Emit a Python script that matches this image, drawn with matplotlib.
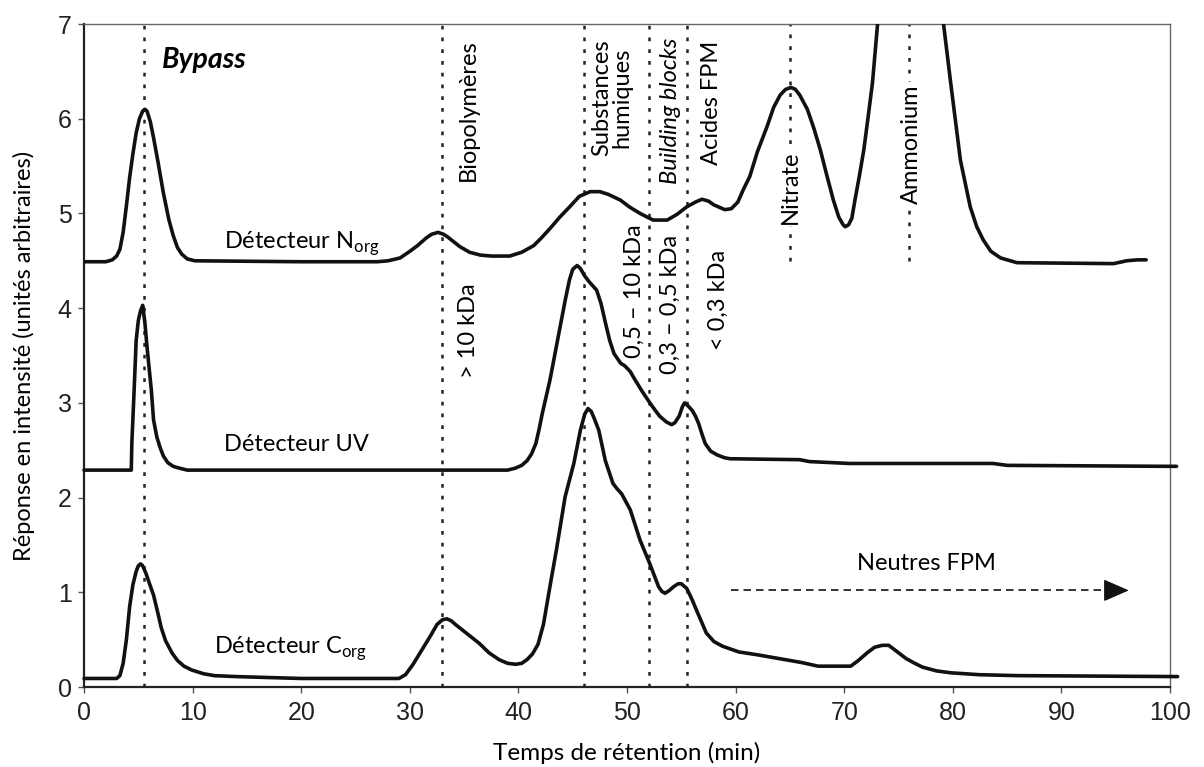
import matplotlib
matplotlib.use("Agg")
import matplotlib.pyplot as plt

# ---------------- data ----------------
norg_x = [0, 2.0, 2.6, 3.0, 3.3, 3.6, 3.9, 4.2, 4.5, 4.8, 5.1, 5.4, 5.6, 5.8, 6.1, 6.4, 6.8, 7.3,
          7.8, 8.2, 8.6, 9.0, 9.5, 10.2, 20, 27,
          28.0, 29.1, 30.0, 30.7, 31.5, 32.0, 32.6, 33.1, 33.5, 34.6, 35.5, 36.5, 37.5, 39.2, 40.3,
          41.4, 42.1, 42.9, 43.8, 44.8, 45.6, 46.6, 47.5, 48.3, 49.4, 50.2, 51.2, 52.4, 53.7,
          54.6, 55.5, 56.3, 56.9, 57.5, 58.0, 59.0, 59.6, 60.2, 60.7, 61.3, 62.0, 62.9, 63.5,
          64.1, 64.6, 65.1, 65.5, 65.9, 66.6, 67.2, 67.8, 68.4, 69.0, 69.5, 69.9, 70.1, 70.4,
          70.7, 71.0, 71.4, 71.8, 72.2, 72.6, 73.1, 73.6, 74.2, 75.0, 75.8, 76.6, 77.4, 78.1,
          78.6, 79.1, 79.8, 80.7, 81.6, 82.2, 82.8, 83.5, 84.4, 85.9, 94.8, 96.0, 97.0, 97.8]
norg_y = [4.49, 4.49, 4.51, 4.55, 4.62, 4.80, 5.08, 5.38, 5.63, 5.85, 6.00, 6.08, 6.10, 6.08, 5.97, 5.80, 5.55, 5.22,
          4.94, 4.77, 4.64, 4.57, 4.52, 4.50, 4.49, 4.49,
          4.50, 4.53, 4.60, 4.66, 4.74, 4.78, 4.80, 4.78, 4.75, 4.65, 4.59, 4.56, 4.55, 4.55, 4.59,
          4.66, 4.74, 4.84, 4.96, 5.08, 5.18, 5.23, 5.23, 5.20, 5.14, 5.07, 5.00, 4.93, 4.93,
          4.99, 5.07, 5.12, 5.15, 5.13, 5.09, 5.04, 5.05, 5.12, 5.25, 5.39, 5.65, 5.92, 6.12,
          6.25, 6.31, 6.33, 6.31, 6.25, 6.10, 5.90, 5.67, 5.40, 5.14, 4.96, 4.88, 4.86, 4.88,
          4.95, 5.15, 5.40, 5.67, 6.02, 6.38, 7.04, 7.70, 8.40, 9.00, 9.30, 9.20, 8.80, 8.00,
          7.50, 7.04, 6.38, 5.56, 5.07, 4.86, 4.72, 4.60, 4.53, 4.48, 4.47, 4.50, 4.51, 4.51]

uv_x = [0, 4.35, 4.4, 4.6, 4.8, 5.0, 5.2, 5.4, 5.6, 5.8, 6.0, 6.2, 6.4, 6.7, 7.0, 7.3, 7.7, 8.2, 8.8,
        9.5, 39.0, 39.7, 40.3, 40.8, 41.2, 41.6, 41.9, 42.2, 42.9, 43.6, 44.3, 44.7, 45.0, 45.4,
        45.7, 46.1, 46.5, 47.2, 47.6, 48.0, 48.4, 48.8, 49.4, 49.8, 50.3, 50.7, 51.4, 52.1,
        52.6, 53.0, 53.6, 54.1, 54.4, 54.8, 55.1, 55.3, 55.6, 56.0, 56.3, 56.6, 56.9, 57.2,
        57.7, 58.3, 59.0, 59.5, 65.9, 66.8, 70.5, 83.7, 85.0, 99.7, 100.6]
uv_y = [2.29, 2.29, 2.57, 3.10, 3.66, 3.87, 3.97, 4.03, 3.85, 3.59, 3.36, 3.13, 2.82, 2.64, 2.53, 2.44, 2.37, 2.33, 2.31,
        2.29, 2.29, 2.31, 2.34, 2.39, 2.46, 2.57, 2.72, 2.89, 3.24, 3.66, 4.08, 4.30, 4.41, 4.45,
        4.42, 4.34, 4.28, 4.19, 4.05, 3.85, 3.66, 3.52, 3.42, 3.39, 3.33, 3.25, 3.12, 3.00,
        2.92, 2.86, 2.80, 2.77, 2.79, 2.86, 2.96, 3.00, 2.97, 2.92, 2.86, 2.78, 2.67, 2.57,
        2.49, 2.45, 2.42, 2.41, 2.40, 2.38, 2.36, 2.36, 2.34, 2.33, 2.33]

corg_x = [0, 3.0, 3.3, 3.6, 3.9, 4.2, 4.5, 4.8, 5.0, 5.2, 5.4, 5.7, 6.0, 6.4, 6.8, 7.1, 7.5, 8.1,
          8.6, 9.2, 9.9, 11, 12, 14, 17, 20, 29.0,
          29.6, 30.3, 31.1, 31.9, 32.5, 33.0, 33.4, 33.8, 34.2, 35.3, 36.4, 37.3, 38.2, 39.0,
          39.75, 40.3, 40.8, 41.3, 41.8, 42.3, 42.9, 43.5, 44.3, 45.1, 45.7, 46.1, 46.4, 46.7,
          47.0, 47.4, 48.0, 48.7, 49.1, 49.5, 50.3, 51.2, 52.1, 52.9, 53.2, 53.5, 53.9, 54.3,
          54.7, 55.0, 55.5, 56.0, 56.4, 57.3, 58.0, 58.8, 60.3, 62.0, 64.0, 66.0, 67.6, 70.6,
          71.3, 72.1, 72.8, 73.5, 74.1, 74.9, 75.7, 76.5, 77.2, 78.5, 79.8, 82.4, 86.0, 100.7]
corg_y = [0.09, 0.09, 0.12, 0.25, 0.50, 0.85, 1.08, 1.22, 1.28, 1.30, 1.28, 1.20, 1.10, 0.97, 0.78, 0.63, 0.49, 0.36,
          0.28, 0.22, 0.18, 0.14, 0.12, 0.11, 0.10, 0.09, 0.09,
          0.13, 0.24, 0.39, 0.54, 0.66, 0.71, 0.72, 0.70, 0.66, 0.56, 0.46, 0.36, 0.29, 0.25,
          0.24, 0.25, 0.29, 0.35, 0.45, 0.66, 1.06, 1.45, 2.01, 2.36, 2.71, 2.88, 2.94, 2.91,
          2.83, 2.71, 2.39, 2.15, 2.09, 2.04, 1.87, 1.55, 1.30, 1.06, 1.01, 0.99, 1.02, 1.06,
          1.09, 1.09, 1.04, 0.92, 0.81, 0.57, 0.48, 0.43, 0.37, 0.34, 0.30, 0.26, 0.22, 0.22,
          0.28, 0.36, 0.42, 0.44, 0.44, 0.37, 0.30, 0.25, 0.21, 0.17, 0.15, 0.13, 0.12, 0.11]

full_lines_x = [5.5, 33, 46, 52, 55.5]
short_lines_x = [65, 76]
short_lines_y = (4.5, 7.0)

x_ticks = [0, 10, 20, 30, 40, 50, 60, 70, 80, 90, 100]
y_ticks = [0, 1, 2, 3, 4, 5, 6, 7]

# ---------------- figure ----------------
LAB = ['Lato', 'DejaVu Sans']
TICK = ['Liberation Sans', 'DejaVu Sans']

fig = plt.figure(figsize=(12.04, 7.67), dpi=100)
ax = fig.add_axes([0.0698, 0.1043, 0.9020, 0.8644])
ax.set_xlim(0, 100)
ax.set_ylim(0, 7)

dot_style = (0, (1.5, 3.2))
for xv in full_lines_x:
    ax.plot([xv, xv], [0, 7], color='#222222', lw=1.8, ls=dot_style, zorder=1)
for xv in short_lines_x:
    ax.plot([xv, xv], list(short_lines_y), color='#222222', lw=1.8, ls=dot_style, zorder=1)

kw = dict(color='#111111', lw=2.6, solid_joinstyle='round', solid_capstyle='round', zorder=3)
ax.plot(norg_x, norg_y, **kw)
ax.plot(uv_x, uv_y, clip_on=False, **kw)
ax.plot(corg_x, corg_y, clip_on=False, **kw)

# texts
fs = 17
ax.text(7.2, 6.62, 'Bypass', fontsize=20.5, fontweight='bold', fontstyle='italic',
        family=LAB, ha='left', va='center')
ax.text(12.9, 4.68, r'Détecteur N$_\mathregular{org}$', fontsize=fs, family=LAB, ha='left', va='center')
ax.text(12.9, 2.56, 'Détecteur UV', fontsize=fs, family=LAB, ha='left', va='center')
ax.text(12.0, 0.40, r'Détecteur C$_\mathregular{org}$', fontsize=fs, family=LAB, ha='left', va='center')

rot = dict(rotation=90, fontsize=fs, family=LAB, ha='center', va='top')
ax.text(35.4, 6.84, 'Biopolymères', **rot)
ax.text(35.4, 4.26, '> 10 kDa', **rot)
ax.text(48.6, 6.84, 'Substances\nhumiques', multialignment='center', linespacing=1.0, **rot)
ax.text(54.0, 6.86, 'Building blocks', fontstyle='italic', **rot)
ax.text(57.8, 6.82, 'Acides FPM', **rot)
ax.text(50.7, 4.88, '0,5 – 10 kDa', **rot)
ax.text(54.0, 4.77, '0,3 – 0,5 kDa', **rot)
ax.text(58.4, 4.62, '< 0,3 kDa', **rot)
ax.text(65.0, 5.28, 'Nitrate', rotation=90, fontsize=fs, family=LAB, ha='center', va='center',
        bbox=dict(facecolor='white', edgecolor='none', pad=1.5), zorder=2)
ax.text(76.2, 5.73, 'Ammonium', rotation=90, fontsize=fs, family=LAB, ha='center', va='center',
        bbox=dict(facecolor='white', edgecolor='none', pad=1.5), zorder=2)

ax.text(77.6, 1.30, 'Neutres FPM', fontsize=fs, family=LAB, ha='center', va='center')
ax.plot([59.6, 94.5], [1.02, 1.02], color='#111111', lw=1.2, dashes=(4.5, 3))
ax.annotate('', xy=(96.2, 1.02), xytext=(94.0, 1.02),
            arrowprops=dict(arrowstyle='-|>,head_length=1.6,head_width=0.7',
                            color='#111111', lw=1.0, shrinkA=0, shrinkB=0))

# axes styling
ax.set_xticks(x_ticks)
ax.set_yticks(y_ticks)
ax.set_xticklabels([str(v) for v in x_ticks], family=TICK, fontsize=18)
ax.set_yticklabels([str(v) for v in y_ticks], family=TICK, fontsize=18)
ax.tick_params(axis='x', direction='out', length=4, width=1, color='#555555', pad=6, labelcolor='#222222')
ax.tick_params(axis='y', direction='out', length=4, width=1, color='#555555', pad=5, labelcolor='#222222')
for s in ('left', 'bottom'):
    ax.spines[s].set_linewidth(1.6)
    ax.spines[s].set_color('#222222')
for s in ('top', 'right'):
    ax.spines[s].set_linewidth(1.0)
    ax.spines[s].set_color('#666666')

ax.set_xlabel('Temps de rétention (min)', fontsize=17.5, family=LAB, labelpad=12)
ax.set_ylabel('Réponse en intensité (unités arbitraires)', fontsize=17, family=LAB, labelpad=16)

fig.savefig('out.png', dpi=100)
